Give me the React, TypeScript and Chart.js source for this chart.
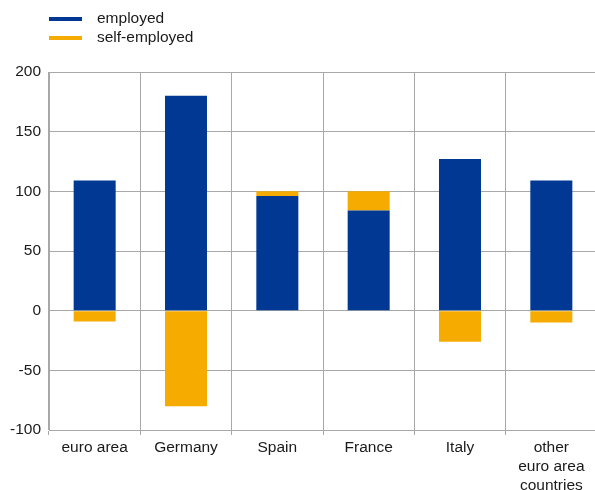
import { useEffect, useRef } from "react";
import { Chart, registerables } from "chart.js";

Chart.register(...registerables);

const categories: (string | string[])[] = [
  "euro area",
  "Germany",
  "Spain",
  "France",
  "Italy",
  ["other", "euro area", "countries"],
];
const employed = [109, 180, 96, 84, 127, 109];
const selfEmployed = [-9, -80, 4, 16, -26, -10];
const seriesNames = ["employed", "self-employed"];
const seriesColors = ["#003894", "#f6ab00"];
const yMin = -100;
const yMax = 200;
const yStep = 50;

const FONT_FAMILY = "'Liberation Sans', Arial, sans-serif";
const TEXT_COLOR = "#1a1a1a";
const GRID_COLOR = "#a8a8a8";

const legendPlugin = {
  id: "stackedLegend",
  afterDraw(chart: any) {
    const ctx = chart.ctx;
    ctx.save();
    chart.data.datasets.forEach((ds: any, i: number) => {
      const y = 19 + i * 19;
      ctx.strokeStyle = ds.backgroundColor;
      ctx.lineWidth = 4;
      ctx.beginPath();
      ctx.moveTo(49, y);
      ctx.lineTo(82, y);
      ctx.stroke();
      ctx.fillStyle = TEXT_COLOR;
      ctx.font = `15.5px ${FONT_FAMILY}`;
      ctx.textBaseline = "middle";
      ctx.textAlign = "left";
      ctx.fillText(ds.label, 97, y);
    });
    ctx.restore();
  },
};

export default function App() {
  const ref = useRef<HTMLCanvasElement | null>(null);

  useEffect(() => {
    if (!ref.current) return;
    const chart = new Chart(ref.current, {
      type: "bar",
      data: {
        labels: categories,
        datasets: [
          {
            label: seriesNames[0],
            data: employed,
            backgroundColor: seriesColors[0],
            borderWidth: 0,
          },
          {
            label: seriesNames[1],
            data: selfEmployed,
            backgroundColor: seriesColors[1],
            borderWidth: 0,
          },
        ],
      },
      options: {
        responsive: false,
        animation: false,
        layout: { padding: { top: 72, left: 0, right: 0, bottom: 0 } },
        datasets: {
          bar: { categoryPercentage: 0.92, barPercentage: 0.5 },
        },
        plugins: {
          legend: { display: false },
          tooltip: { enabled: false },
        },
        scales: {
          x: {
            stacked: true,
            offset: true,
            grid: {
              offset: true,
              color: GRID_COLOR,
              lineWidth: 1,
              tickLength: 5,
              drawTicks: true,
            },
            border: { color: GRID_COLOR, width: 1 },
            ticks: {
              color: TEXT_COLOR,
              font: { family: FONT_FAMILY, size: 15.5, lineHeight: 1.23 },
              padding: 3,
              maxRotation: 0,
              autoSkip: false,
            },
            afterFit: (scale: any) => {
              scale.height = 60;
            },
          },
          y: {
            stacked: true,
            min: yMin,
            max: yMax,
            grid: {
              color: GRID_COLOR,
              lineWidth: 1,
              drawTicks: false,
            },
            border: { color: GRID_COLOR, width: 1 },
            ticks: {
              stepSize: yStep,
              color: TEXT_COLOR,
              font: { family: FONT_FAMILY, size: 15.5 },
              padding: 8,
            },
            afterFit: (scale: any) => {
              scale.width = 49;
            },
          },
        },
      },
      plugins: [legendPlugin],
    });
    return () => chart.destroy();
  }, []);

  return (
    <div
      style={{
        position: "fixed",
        left: 0,
        top: 0,
        width: 595,
        height: 490,
        overflow: "hidden",
        background: "#fff",
      }}
    >
      <canvas ref={ref} width={597} height={490} style={{ display: "block" }} />
    </div>
  );
}
